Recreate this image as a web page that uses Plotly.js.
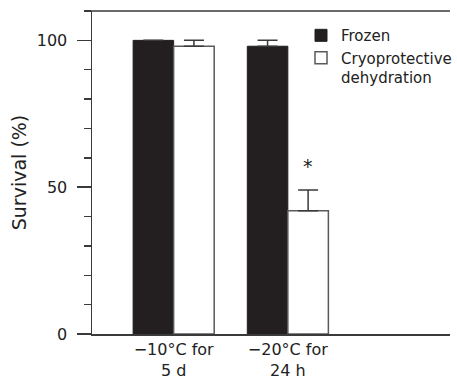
<!DOCTYPE html>
<html>
<head>
<meta charset="utf-8">
<script src="https://cdn.plot.ly/plotly-3.0.1.min.js"></script>
<style>html,body{margin:0;padding:0;background:#fff;}#chart{width:457px;height:379px;}</style>
</head>
<body>
<div id="chart"></div>
<script>
// Data
const conditions = ['\u221210\u00b0C for<br>5 d', '\u221220\u00b0C for<br>24 h'];
const conditionPos = [0, 1];
const frozenSurvival = [100, 98];
const frozenError = [0, 2];
const dehydratedSurvival = [98, 42];
const dehydratedError = [2, 7];
const significance = ['', '*'];
const yTickVals = [0, 50, 100];

const lineCol = '#3a3a3a';
const font = 'DejaVu Sans, sans-serif';
const upOnly = arr => arr.map(v => (v > 0 ? v : NaN));

const traces = [
  {
    type: 'bar', name: 'Frozen', x: conditionPos, y: frozenSurvival,
    marker: {color: '#231f20', line: {color: '#231f20', width: 1}},
    error_y: {type: 'data', symmetric: false, array: upOnly(frozenError), arrayminus: frozenError.map(() => 0),
              color: lineCol, thickness: 1.5, width: 10, visible: true}
  },
  {
    type: 'bar', name: 'Cryoprotective<br>dehydration', x: conditionPos, y: dehydratedSurvival,
    marker: {color: '#ffffff', line: {color: '#5a5a5a', width: 1.5}},
    error_y: {type: 'data', symmetric: false, array: upOnly(dehydratedError), arrayminus: dehydratedError.map(() => 0),
              color: lineCol, thickness: 1.5, width: 10, visible: true}
  }
];

const bargap = 0.29;
const barW = (1 - bargap) / 2;
const annotations = [];
significance.forEach((s, i) => {
  if (s) {
    annotations.push({
      x: conditionPos[i] + barW / 2, y: dehydratedSurvival[i] + dehydratedError[i],
      xref: 'x', yref: 'y', text: s, showarrow: false, yanchor: 'bottom', yshift: 11,
      font: {family: font, size: 19, color: '#222'}
    });
  }
});

const layout = {
  width: 457, height: 379,
  margin: {l: 92, r: 0, t: 11, b: 45},
  paper_bgcolor: '#fff', plot_bgcolor: '#fff',
  barmode: 'group', bargap: bargap, bargroupgap: 0,
  showlegend: true,
  legend: {x: 0.584, xanchor: 'left', y: 0.975, yanchor: 'top', bgcolor: 'rgba(0,0,0,0)', valign: 'top',
           font: {family: font, size: 15, color: '#222'}, tracegroupgap: 4, itemwidth: 30},
  xaxis: {
    range: [-0.715, 2.42], tickvals: conditionPos, ticktext: conditions,
    showline: true, linecolor: lineCol, linewidth: 1.5, mirror: false,
    ticks: '', showgrid: false, zeroline: false, fixedrange: true,
    tickfont: {family: font, size: 16, color: '#222'}
  },
  yaxis: {
    range: [0, 110], tickvals: yTickVals, ticks: 'outside', ticklen: 14, tickwidth: 1.5, tickcolor: lineCol,
    minor: {dtick: 10, ticks: 'outside', ticklen: 7, tickwidth: 1.5, tickcolor: lineCol, showgrid: false},
    showline: true, linecolor: lineCol, linewidth: 1.5, showgrid: false, zeroline: false,
    tickfont: {family: font, size: 16, color: '#222'}, ticklabelstandoff: 6,
    title: {text: 'Survival (%)', font: {family: font, size: 19, color: '#222'}, standoff: 5}
  },
  shapes: [
    {type: 'line', xref: 'paper', yref: 'paper', x0: -6 / 365, x1: 1, y0: 1, y1: 1,
     line: {color: lineCol, width: 1.5}}
  ],
  annotations: annotations
};

Plotly.newPlot('chart', traces, layout, {displayModeBar: false, staticPlot: true});
</script>
</body>
</html>
